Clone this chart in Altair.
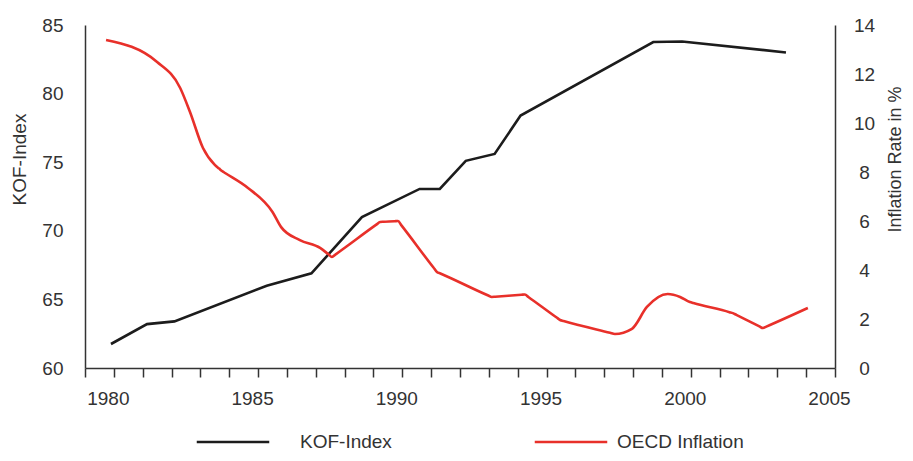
import altair as alt
import pandas as pd

# KOF-Index (black, straight segments)
kof_years = [1979.9, 1981.15, 1982.1, 1985.3, 1986.85, 1988.6, 1990.6, 1991.3,
             1992.2, 1993.2, 1994.1, 1998.7, 1999.7, 2003.3]
kof_values = [61.75, 63.2, 63.4, 66.0, 66.9, 71.0, 73.05, 73.05,
              75.1, 75.6, 78.4, 83.76, 83.8, 83.0]

# OECD Inflation in % (red, smooth)
infl_years = [1979.73, 1981.5, 1982.3, 1982.64, 1983.09, 1983.5, 1983.65, 1983.75,
              1983.87, 1984.65, 1985.5, 1985.8, 1986.45, 1987.15, 1987.44, 1987.56,
              1987.68, 1989.11, 1989.23, 1989.35, 1989.73, 1989.85, 1989.97, 1991.08,
              1991.2, 1991.32, 1992.98, 1993.1, 1993.22, 1994.13, 1994.25, 1994.37,
              1995.35, 1995.47, 1995.59, 1997.2, 1997.37, 1997.96, 1998.48, 1999.2,
              1999.63, 1999.97, 2000.09, 2001.34, 2001.46, 2001.58, 2002.38, 2002.5,
              2002.62, 2004.06]
infl_values = [13.39, 12.49, 11.43, 10.45, 8.98, 8.29, 8.14, 8.04,
               7.95, 7.35, 6.37, 5.75, 5.22, 4.9, 4.64, 4.53,
               4.63, 5.86, 5.96, 5.97, 5.99, 6.0, 5.82, 4.10,
               3.92, 3.86, 2.96, 2.9, 2.91, 2.99, 3.0, 2.9,
               2.06, 1.96, 1.92, 1.44, 1.39, 1.6, 2.49, 3.02,
               2.9, 2.69, 2.65, 2.28, 2.24, 2.17, 1.70, 1.63,
               1.69, 2.45]

year_ticks = list(range(1979, 2006))
kof_ticks = [60, 65, 70, 75, 80, 85]
infl_ticks = [0, 2, 4, 6, 8, 10, 12, 14]

kof_df = pd.DataFrame({"year": kof_years, "value": kof_values, "series": "KOF-Index"})
infl_df = pd.DataFrame({"year": infl_years, "value": infl_values, "series": "OECD Inflation"})

FONT = "Liberation Sans"
TXT = "#333333"

x_enc = alt.X(
    "year:Q",
    scale=alt.Scale(domain=[1979, 2005], nice=False, zero=False),
    axis=alt.Axis(
        values=year_ticks,
        labelExpr="datum.value % 5 === 0 ? datum.label : ''",
        format="d",
        title=None,
        grid=False,
        tickSize=9,
        labelPadding=12,
        labelOffset=-6,
        labelFlush=False,
        labelOverlap=False,
    ),
)

kof_line = alt.Chart(kof_df).mark_line(strokeWidth=2.6).encode(
    x=x_enc,
    y=alt.Y(
        "value:Q",
        scale=alt.Scale(domain=[60, 85], nice=False, zero=False),
        axis=alt.Axis(
            values=kof_ticks,
            title="KOF-Index",
            orient="left",
            grid=False,
            ticks=False,
            tickSize=0,
            labelPadding=22,
            titleX=-66,
            titleY=134,
            titleAlign="center",
            titleBaseline="middle",
        ),
    ),
    color=alt.Color(
        "series:N",
        scale=alt.Scale(domain=["KOF-Index"], range=["#1c1c1c"]),
        legend=alt.Legend(
            orient="none",
            legendX=110,
            legendY=379,
            title=None,
            symbolType="stroke",
            symbolSize=5256,
            symbolStrokeWidth=2.6,
            labelOffset=29,
            padding=0,
        ),
    ),
)

infl_line = alt.Chart(infl_df).mark_line(strokeWidth=2.6, interpolate="monotone").encode(
    x=x_enc,
    y=alt.Y(
        "value:Q",
        scale=alt.Scale(domain=[0, 14], nice=False),
        axis=alt.Axis(
            values=infl_ticks,
            title="Inflation Rate in %",
            orient="right",
            grid=False,
            ticks=False,
            tickSize=0,
            labelPadding=29,
            labelAlign="center",
            titleAngle=270,
            titleX=60,
            titleY=134,
            titleFontSize=18,
            titleAlign="center",
            titleBaseline="middle",
        ),
    ),
    color=alt.Color(
        "series:N",
        scale=alt.Scale(domain=["OECD Inflation"], range=["#e8302a"]),
        legend=alt.Legend(
            orient="none",
            legendX=448,
            legendY=379,
            title=None,
            symbolType="stroke",
            symbolSize=5256,
            symbolStrokeWidth=2.6,
            labelOffset=8,
            padding=0,
        ),
    ),
)

chart = (
    alt.layer(kof_line, infl_line)
    .resolve_scale(y="independent", color="independent")
    .properties(
        width=750,
        height=343,
        autosize=alt.AutoSizeParams(type="none"),
        padding={"left": 77, "top": 17, "right": 70, "bottom": 85},
        background="white",
    )
    .configure_view(strokeOpacity=0)
    .configure_axis(
        labelFont=FONT,
        titleFont=FONT,
        labelFontSize=19,
        titleFontSize=19,
        labelColor=TXT,
        titleColor=TXT,
        titleFontWeight="normal",
        domainColor="#333333",
        domainWidth=1.5,
        tickColor="#333333",
        tickWidth=1.5,
    )
    .configure_legend(
        labelFont=FONT,
        labelFontSize=19,
        labelColor=TXT,
    )
)

chart.save("out.html", embed_options={"renderer": "svg", "actions": False})
